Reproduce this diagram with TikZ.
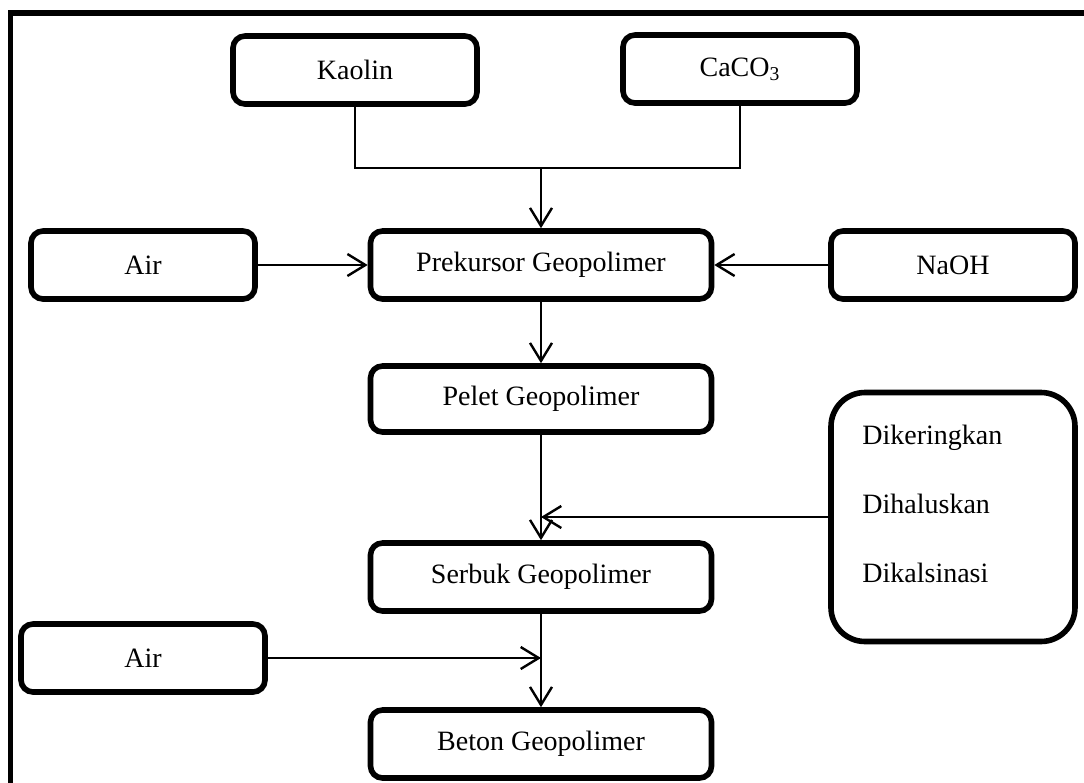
\documentclass[tikz,border=0pt]{standalone}
\usepackage{fontspec}
\setmainfont{Liberation Serif}
\usetikzlibrary{arrows.meta}

\begin{document}
\begin{tikzpicture}[x=0.5pt,y=-0.5pt,
  box/.style={draw,line width=2.8pt,rounded corners=6pt,minimum height=34pt,inner sep=2pt,font=\fontsize{14}{17}\selectfont,align=center},
  wide/.style={box,minimum width=170.5pt},
  arr/.style={-{Straight Barb[length=9pt,width=11pt]},line width=1.2pt},
  ln/.style={line width=1.2pt}]
\useasboundingbox (0,0) rectangle (1084,783);
% frame, cut at right and bottom
\draw[line width=2.6pt] (10.5,783) -- (10.5,13) -- (1084,13);
\node[box,minimum width=122pt] (kaolin) at (355,70) {Kaolin};
\node[box,minimum width=117pt] (caco) at (740,69) {CaCO\textsubscript{3}};
\node[box,minimum width=112pt] (airA) at (143,265) {Air};
\node[wide] (prek) at (541,265) {Prekursor Geopolimer};
\node[box,minimum width=122pt] (naoh) at (953,265) {NaOH};
\node[wide,minimum height=33pt] (pelet) at (541,399) {Pelet Geopolimer};
\node[box,minimum width=122pt,minimum height=124.5pt,rounded corners=17pt] (proses) at (953,517) {};
\node[anchor=north west,inner sep=0pt,align=left,font=\fontsize{14}{34.5}\selectfont] (langkah) at (862,425) {Dikeringkan\\Dihaluskan\\Dikalsinasi};
\node[wide] (serbuk) at (541,577) {Serbuk Geopolimer};
\node[box,minimum width=122pt] (airB) at (143,658) {Air};
\node[wide] (beton) at (541,744) {Beton Geopolimer};
\coordinate (gabung) at (541,168);
\draw[ln] (kaolin.south) |- (gabung) -| (caco.south);
\draw[arr] (gabung) -- (prek.north);
\draw[arr] (airA) -- (prek); \draw[arr] (naoh) -- (prek);
\draw[arr] (prek) -- (pelet); \draw[arr] (pelet) -- (serbuk);
\draw[arr] (proses.west) -- (proses.west -| pelet.south);
\draw[arr] (serbuk) -- (beton);
\draw[arr] (airB) -- (airB -| serbuk.south);
\end{tikzpicture}
\end{document}
